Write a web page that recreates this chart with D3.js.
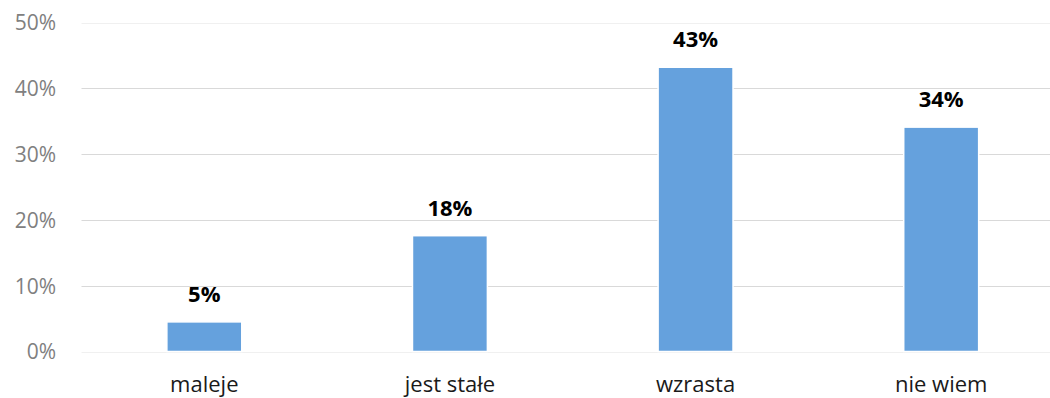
<!DOCTYPE html>
<html><head><meta charset="utf-8">
<script src="https://cdn.jsdelivr.net/npm/d3@7"></script>
<style>
html,body{margin:0;padding:0;background:#fff;overflow:hidden;}
svg{display:block;}
</style></head>
<body>
<svg id="chart" width="1050" height="398"></svg>
<script>
const categories = ["maleje", "jest stałe", "wzrasta", "nie wiem"];
const values = [0.045, 0.176, 0.432, 0.341];
const labels = ["5%", "18%", "43%", "34%"];
const yTicks = [0, 0.1, 0.2, 0.3, 0.4, 0.5];

const svg = d3.select("#chart");
const font = "'Open Sans', sans-serif";

const x = d3.scaleBand().domain(categories).range([81.5, 1064])
  .paddingInner(0.695).paddingOuter(0.3475);
const y = d3.scaleLinear().domain([0, 0.5]).range([351.5, 22.5]);

// gridlines
svg.append("g").selectAll("line").data(yTicks).join("line")
  .attr("x1", 81.5).attr("x2", 1064)
  .attr("y1", d => Math.round(y(d)) + 0.5).attr("y2", d => Math.round(y(d)) + 0.5)
  .attr("stroke", d => (d === 0 || d === 0.5) ? "#f0f0f0" : "#d9d9d9")
  .attr("stroke-width", 1);

// y axis labels
const yAxis = d3.axisLeft(y).tickValues(yTicks).tickFormat(d3.format(".0%")).tickSize(0).tickPadding(0);
const ga = svg.append("g").attr("transform", "translate(56,0)").call(yAxis);
ga.select(".domain").remove();
ga.selectAll("text").attr("font-family", font).attr("font-size", 21).attr("fill", "#808080")
  .attr("dy", "0.35em");

// bars
svg.append("g").selectAll("rect").data(values).join("rect")
  .attr("x", (d, i) => x(categories[i]))
  .attr("width", x.bandwidth())
  .attr("y", d => y(d))
  .attr("height", d => y(0) - y(d))
  .attr("fill", "#65a1dd")
  .attr("stroke", "#ffffff").attr("stroke-width", 1.5);

// data labels
svg.append("g").selectAll("text").data(values).join("text")
  .attr("x", (d, i) => x(categories[i]) + x.bandwidth() / 2)
  .attr("y", d => y(d) - 20)
  .attr("text-anchor", "middle")
  .attr("font-family", font).attr("font-size", 22).attr("font-weight", "bold")
  .attr("fill", "#000")
  .text((d, i) => labels[i]);

// x axis labels
const xAxis = d3.axisBottom(x).tickSize(0).tickPadding(0);
const gx = svg.append("g").attr("transform", "translate(0,392)").call(xAxis);
gx.select(".domain").remove();
gx.selectAll("text").attr("font-family", font).attr("font-size", 22).attr("fill", "#1a1a1a")
  .attr("dy", "0").attr("y", 0);
</script>
</body></html>
